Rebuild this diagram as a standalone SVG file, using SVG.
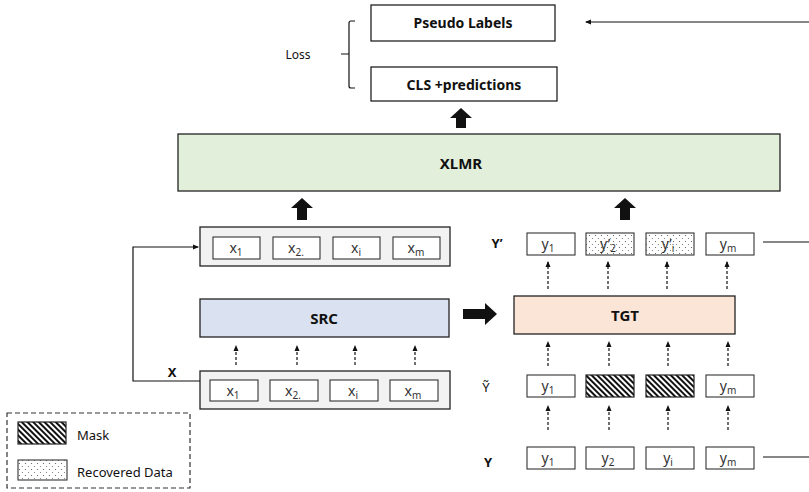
<svg xmlns="http://www.w3.org/2000/svg" width="809" height="492" viewBox="0 0 809 492">
<defs>
<style>
text{font-family:"Noto Sans","Open Sans","Liberation Sans",sans-serif;fill:#111}
.b{font-weight:bold}
.box{fill:#fff;stroke:#222;stroke-width:1.3}
.cell{fill:#fff;stroke:#333;stroke-width:1.1}
.tok{font-size:14px;fill:#333;text-anchor:middle}
.sub{font-size:10px}
.dash{stroke:#111;stroke-width:1.2;stroke-dasharray:3,2;fill:none}
.ln{stroke:#111;stroke-width:1.2;fill:none}
</style>
<pattern id="hatch" patternUnits="userSpaceOnUse" width="4" height="4" patternTransform="rotate(-45)">
<rect width="4" height="4" fill="#fff"/>
<rect x="0" y="0" width="2" height="4" fill="#111"/>
</pattern>
<pattern id="dots" patternUnits="userSpaceOnUse" width="6" height="6">
<rect width="6" height="6" fill="#fff"/>
<circle cx="1.5" cy="1.5" r="0.6" fill="#555"/>
<circle cx="4.5" cy="4.5" r="0.6" fill="#777"/>
</pattern>
<marker id="ah" markerWidth="6" markerHeight="6" refX="5" refY="3" orient="auto" markerUnits="userSpaceOnUse">
<path d="M0,0.5 L6,3 L0,5.5 Z" fill="#111"/>
</marker>
</defs>
<rect width="809" height="492" fill="#fff"/>

<g id="pseudo-labels">
<rect class="box" x="371" y="5" width="184" height="36"/>
<text class="b" x="463" y="28" font-size="14" text-anchor="middle">Pseudo Labels</text>
</g>
<g id="cls-predictions">
<rect class="box" x="371" y="67" width="186" height="34"/>
<text class="b" x="464" y="90" font-size="14" text-anchor="middle">CLS +predictions</text>
</g>
<g id="loss">
<text x="298" y="59" font-size="12" text-anchor="middle" fill="#333">Loss</text>
<path class="ln" d="M355,21 H351 Q349,21 349,23 V86 Q349,88 351,88 H355 M349,54 H341"/>
</g>

<g id="xlmr">
<rect x="178" y="134" width="602" height="57" fill="#e2efda" stroke="#222" stroke-width="1.3"/>
<text class="b" x="461" y="169" font-size="15" text-anchor="middle">XLMR</text>
</g>

<g id="x-top">
<rect x="200" y="227" width="250" height="39" fill="#f2f2f2" stroke="#222" stroke-width="1.3"/>
<rect class="cell" x="213" y="237" width="47" height="22"/>
<rect class="cell" x="273" y="237" width="47" height="22"/>
<rect class="cell" x="333" y="237" width="47" height="22"/>
<rect class="cell" x="393" y="237" width="47" height="22"/>
<text class="tok" x="236" y="253">x<tspan class="sub" dy="3">1</tspan></text>
<text class="tok" x="296" y="253">x<tspan class="sub" dy="3">2.</tspan></text>
<text class="tok" x="356" y="253">x<tspan class="sub" dy="3">i</tspan></text>
<text class="tok" x="416" y="253">x<tspan class="sub" dy="3">m</tspan></text>
</g>

<g id="src">
<rect x="200" y="299" width="249" height="38" fill="#dae1f0" stroke="#222" stroke-width="1.3"/>
<text class="b" x="324" y="324" font-size="15" text-anchor="middle">SRC</text>
</g>

<g id="x-bottom">
<text class="b" x="172" y="377" font-size="13" text-anchor="middle">X</text>
<rect x="200" y="371" width="250" height="38" fill="#f2f2f2" stroke="#222" stroke-width="1.3"/>
<rect class="cell" x="210" y="380" width="48" height="21"/>
<rect class="cell" x="270" y="380" width="48" height="21"/>
<rect class="cell" x="330" y="380" width="48" height="21"/>
<rect class="cell" x="390" y="380" width="48" height="21"/>
<text class="tok" x="233" y="396">x<tspan class="sub" dy="3">1</tspan></text>
<text class="tok" x="293" y="396">x<tspan class="sub" dy="3">2.</tspan></text>
<text class="tok" x="353" y="396">x<tspan class="sub" dy="3">i</tspan></text>
<text class="tok" x="413" y="396">x<tspan class="sub" dy="3">m</tspan></text>
</g>

<g id="tgt">
<rect x="514" y="296" width="221" height="38" fill="#fbe5d6" stroke="#222" stroke-width="1.3"/>
<text class="b" x="625" y="321" font-size="15" text-anchor="middle">TGT</text>
</g>

<g id="y-prime">
<text class="b" x="497" y="248" font-size="13" text-anchor="middle">Y’</text>
<rect class="cell" x="527" y="233" width="48" height="22"/>
<rect x="586" y="233" width="48" height="22" fill="url(#dots)" stroke="#333" stroke-width="1.1"/>
<rect x="646" y="233" width="48" height="22" fill="url(#dots)" stroke="#333" stroke-width="1.1"/>
<rect class="cell" x="706" y="233" width="48" height="22"/>
<text class="tok" x="548" y="249">y<tspan class="sub" dy="3">1</tspan></text>
<text class="tok" x="608" y="249">y’<tspan class="sub" dy="3">2</tspan></text>
<text class="tok" x="668" y="249">y’<tspan class="sub" dy="3">i</tspan></text>
<text class="tok" x="728" y="249">y<tspan class="sub" dy="3">m</tspan></text>
</g>

<g id="y-tilde">
<text x="486" y="392" font-size="13" text-anchor="middle" fill="#333">Ỹ</text>
<rect class="cell" x="527" y="375" width="48" height="22"/>
<rect x="586" y="375" width="48" height="22" fill="url(#hatch)" stroke="#222" stroke-width="1.2"/>
<rect x="646" y="375" width="48" height="22" fill="url(#hatch)" stroke="#222" stroke-width="1.2"/>
<rect class="cell" x="706" y="375" width="48" height="22"/>
<text class="tok" x="548" y="391">y<tspan class="sub" dy="3">1</tspan></text>
<text class="tok" x="728" y="391">y<tspan class="sub" dy="3">m</tspan></text>
</g>

<g id="y">
<text class="b" x="488" y="467" font-size="13" text-anchor="middle">Y</text>
<rect class="cell" x="527" y="447" width="48" height="22"/>
<rect class="cell" x="586" y="447" width="48" height="22"/>
<rect class="cell" x="646" y="447" width="48" height="22"/>
<rect class="cell" x="706" y="447" width="48" height="22"/>
<text class="tok" x="548" y="463">y<tspan class="sub" dy="3">1</tspan></text>
<text class="tok" x="608" y="463">y<tspan class="sub" dy="3">2</tspan></text>
<text class="tok" x="668" y="463">y<tspan class="sub" dy="3">i</tspan></text>
<text class="tok" x="728" y="463">y<tspan class="sub" dy="3">m</tspan></text>
</g>

<g id="legend">
<rect x="7" y="413" width="183" height="75" fill="none" stroke="#333" stroke-width="1.2" stroke-dasharray="5,3"/>
<rect x="18" y="422" width="48" height="22" fill="url(#hatch)" stroke="#222" stroke-width="1.2"/>
<text x="77" y="440" font-size="13" fill="#333">Mask</text>
<rect x="18" y="460" width="49" height="20" fill="url(#dots)" stroke="#333" stroke-width="1.1"/>
<text x="77" y="477" font-size="13" fill="#333">Recovered Data</text>
</g>

<g id="connectors">
<path class="ln" d="M809,22 H586" marker-end="url(#ah)"/>
<path class="ln" d="M763,242 H809"/>
<path class="ln" d="M763,457 H809"/>
<path class="ln" d="M200,381 H133 V247 H198" marker-end="url(#ah)"/>
<path d="M461,108 L472,118 H466 V128 H456 V118 H450 Z" fill="#111"/>
<path d="M302,198 L313,208 H307 V220 H297 V208 H291 Z" fill="#111"/>
<path d="M625,198 L636,208 H630 V220 H620 V208 H614 Z" fill="#111"/>
<path d="M463,309 H485 V303 L497,314 L485,325 V319 H463 Z" fill="#111"/>
<path class="dash" d="M236,365 V346" marker-end="url(#ah)"/>
<path class="dash" d="M297,365 V346" marker-end="url(#ah)"/>
<path class="dash" d="M355,365 V346" marker-end="url(#ah)"/>
<path class="dash" d="M415,365 V346" marker-end="url(#ah)"/>
<path class="dash" d="M548,289 V262" marker-end="url(#ah)"/>
<path class="dash" d="M608,289 V262" marker-end="url(#ah)"/>
<path class="dash" d="M667,289 V262" marker-end="url(#ah)"/>
<path class="dash" d="M727,289 V262" marker-end="url(#ah)"/>
<path class="dash" d="M548,366 V342" marker-end="url(#ah)"/>
<path class="dash" d="M609,366 V342" marker-end="url(#ah)"/>
<path class="dash" d="M668,366 V342" marker-end="url(#ah)"/>
<path class="dash" d="M728,366 V342" marker-end="url(#ah)"/>
<path class="dash" d="M548,430 V406" marker-end="url(#ah)"/>
<path class="dash" d="M609,430 V406" marker-end="url(#ah)"/>
<path class="dash" d="M668,430 V406" marker-end="url(#ah)"/>
<path class="dash" d="M728,430 V406" marker-end="url(#ah)"/>
</g>
</svg>
